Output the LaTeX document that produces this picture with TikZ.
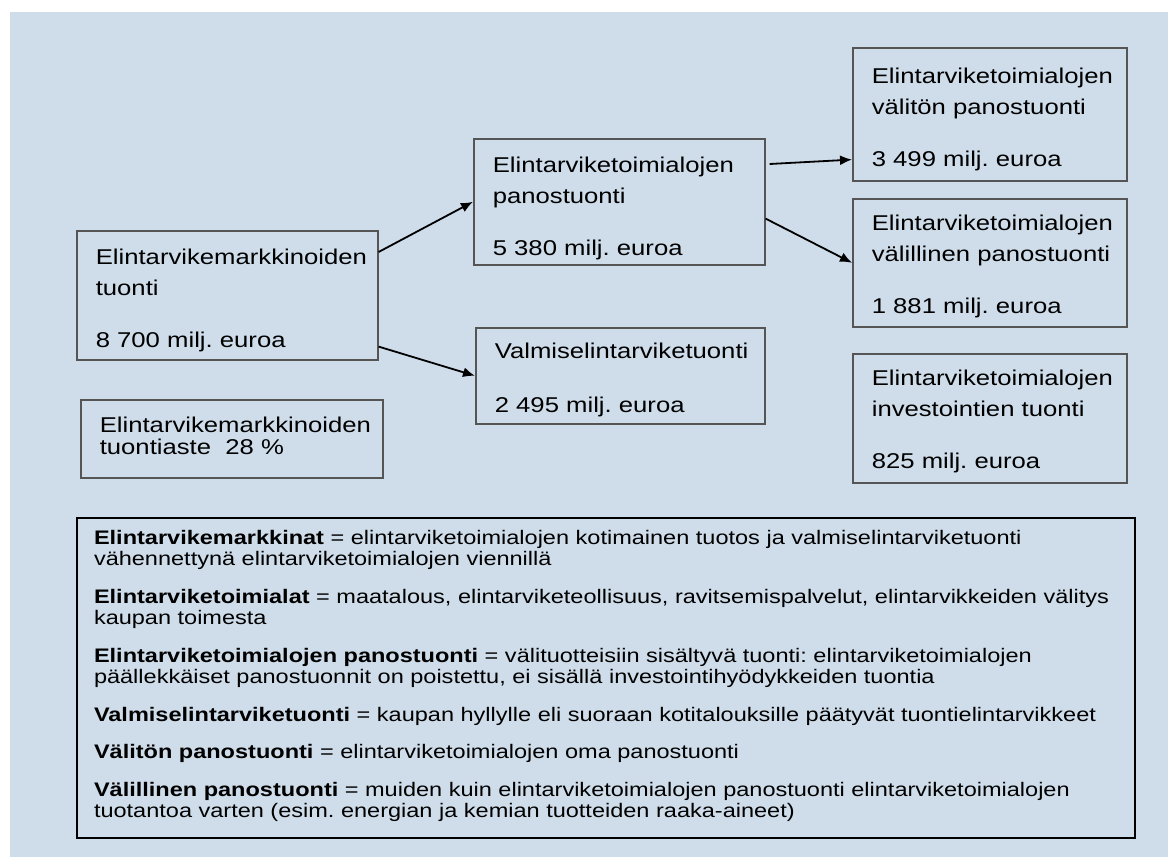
\documentclass[tikz,border=0pt]{standalone}
\usepackage{fontspec}
\setmainfont{Liberation Sans}[FakeStretch=1.2]
\usetikzlibrary{arrows.meta}
\definecolor{bgblue}{RGB}{207, 221, 234}
\definecolor{boxgray}{RGB}{85, 85, 85}
\tikzset{>=latex}
\frenchspacing

\begin{document}
\begin{tikzpicture}[
    x = 1pt, y = -1pt,
    box/.style = {draw = boxgray, line width = 1.6pt, fill = bgblue, anchor = north west, inner xsep = 19pt, inner ysep = 0pt, text width = #1-38pt, align = left, font = \fontsize{21.4}{30.5}\selectfont},
    arr/.style = {line width = 1.8pt, -{Latex[length=12pt, width=10pt]}},
]

\useasboundingbox (0,0) rectangle (1168,857);
\fill[bgblue] (10,12) rectangle (1168,857);

% left column
\node[box = 301pt, text height = 34pt, text depth = 95pt] (tuonti) at (76,230)
    {Elintarvikemarkkinoiden\\ tuonti\\[21.5pt] 8 700 milj. euroa};
\node[box = 302pt, text height = 33pt, text depth = 45pt] (aste) at (80,399)
    {Elintarvikemarkkinoiden\\[-8.5pt] tuontiaste\ \ 28~\%};

% middle column
\node[box = 291pt, text height = 34pt, text depth = 92pt] (panos) at (473,138)
    {Elintarviketoimialojen\\ panostuonti\\[21.5pt] 5 380 milj. euroa};
\node[box = 289pt, text height = 31pt, text depth = 65pt] (valmis) at (475,327)
    {Valmiselintarviketuonti\\[23.5pt] 2 495 milj. euroa};

% right column
\node[box = 274pt, text height = 36pt, text depth = 97pt] (valiton) at (852,47)
    {Elintarviketoimialojen\\ \mbox{välitön panostuonti}\\[21.5pt] 3 499 milj. euroa};
\node[box = 274pt, text height = 32pt, text depth = 96pt] (valillinen) at (852,198)
    {Elintarviketoimialojen\\ \mbox{välillinen panostuonti}\\[21.5pt] 1 881 milj. euroa};
\node[box = 274pt, text height = 32pt, text depth = 97pt] (investoinnit) at (852,353)
    {Elintarviketoimialojen\\ \mbox{investointien tuonti}\\[21.5pt] 825 milj. euroa};

\draw[arr] ([yshift=-22pt]tuonti.north east) -- (panos.west);
\draw[arr] ([yshift=14pt]tuonti.south east) -- (valmis.west);
\draw[arr] ([xshift=4pt, yshift=-26pt]panos.north east) -- ([yshift=22pt]valiton.south west);
\draw[arr] ([yshift=47pt]panos.south east) -- (valillinen.west);

% definitions
\node[box = 1058pt, draw = black, line width = 2pt, inner xsep = 17pt, text width = 1024pt, text height = 26pt, text depth = 294pt, font = \fontsize{19.6}{21.5}\selectfont] (selite) at (76,517)
    {\textbf{Elintarvikemarkkinat} = elintarviketoimialojen kotimainen tuotos ja valmiselintarviketuonti\\
     vähennettynä elintarviketoimialojen viennillä\\[16pt]
     \textbf{Elintarviketoimialat} = maatalous, elintarviketeollisuus, ravitsemispalvelut, elintarvikkeiden välitys\\
     kaupan toimesta\\[16pt]
     \textbf{Elintarviketoimialojen panostuonti} = välituotteisiin sisältyvä tuonti: elintarviketoimialojen\\
     päällekkäiset panostuonnit on poistettu, ei sisällä investointihyödykkeiden tuontia\\[16pt]
     \textbf{Valmiselintarviketuonti} = kaupan hyllylle eli suoraan kotitalouksille päätyvät tuontielintarvikkeet\\[16pt]
     \textbf{Välitön panostuonti} = elintarviketoimialojen oma panostuonti\\[16pt]
     \textbf{Välillinen panostuonti} = muiden kuin elintarviketoimialojen panostuonti elintarviketoimialojen\\
     tuotantoa varten (esim. energian ja kemian tuotteiden raaka-aineet)};

\end{tikzpicture}
\end{document}
